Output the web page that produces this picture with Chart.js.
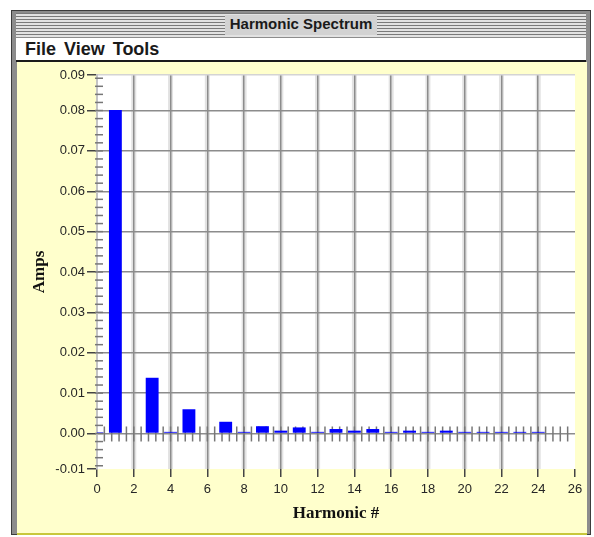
<!DOCTYPE html>
<html>
<head>
<meta charset="utf-8">
<title>Harmonic Spectrum</title>
<script src="https://cdn.jsdelivr.net/npm/chart.js@4/dist/chart.umd.min.js"></script>
<style>
  body { margin: 0; background: #fff; }
  .frame {
    position: absolute; left: 11px; top: 10px; width: 580px; height: 525px;
    box-sizing: border-box; background: #8c8c8c; border: 1px solid #3c3c3c;
  }
  .titlebar {
    position: absolute; left: 4px; right: 4px; top: 2px; height: 24px;
    background: repeating-linear-gradient(to bottom, #7a7a7a 0px, #7a7a7a 1px, #e2e2e2 1px, #e2e2e2 3px);
    text-align: center;
  }
  .titlebar span {
    display: inline-block; margin-top: 2px; height: 20px; line-height: 20px; padding: 0 5px;
    background: #d2d2d2; color: #1a1a1a;
    font: bold 15px "Liberation Sans", Arial, sans-serif;
  }
  .menubar {
    position: absolute; left: 4px; right: 4px; top: 27px; height: 22px;
    background: #fff; border-bottom: 2px solid #1a1a1a;
  }
  .menubar div {
    position: absolute; left: 9px; top: 0; white-space: nowrap;
    font: bold 18px "Liberation Sans", Arial, sans-serif; color: #1a1a1a; line-height: 23px;
  }
  .menubar span { margin-right: 8px; }
  .plot {
    position: absolute; left: 5px; top: 51px; width: 570px; height: 471px;
    background: #ffffcc; border-bottom: 2px solid #c8c83c;
  }
</style>
</head>
<body>
<div class="frame">
  <div class="titlebar"><span>Harmonic Spectrum</span></div>
  <div class="menubar"><div><span>File</span><span>View</span><span>Tools</span></div></div>
  <div class="plot"><canvas id="spectrum" width="570" height="471"></canvas></div>
</div>
<script>
// harmonic number and amplitude
var harmonics = [0, 1, 2, 3, 4, 5, 6, 7, 8, 9, 10, 11, 12, 13, 14, 15, 16, 17, 18, 19, 20, 21, 22, 23, 24, 25]
var amps = [0.0003, 0.0801, 0, 0.0138, 0.0004, 0.0060, 0, 0.0029, 0.0004, 0.0018, 0.0007, 0.0015, 0.0004,
  0.0011, 0.0007, 0.0011, 0.0004, 0.0007, 0.0004, 0.0007, 0.0004, 0.0004, 0.0004, 0.0004, 0.0004, 0]

// axis ends (labelled with their rounded values) and the inner y ticks
var yMin = -0.0088
var yMax = 0.0888
var yTickValues = [0, 0.01, 0.02, 0.03, 0.04, 0.05, 0.06, 0.07, 0.08]
var yMinorStep = 0.002
var xMin = 0
var xMax = 26
var xStep = 2
var xMinorStep = 0.4

var points = harmonics.map(function (h, i) {
  return { x: h, y: amps[i] }
})

var plotBackground = {
  id: 'plotBackground',
  beforeDraw: function (chart) {
    var ctx = chart.ctx
    var a = chart.chartArea
    var x = chart.scales.x
    ctx.save()
    ctx.fillStyle = '#ffffff'
    ctx.fillRect(a.left, a.top, a.right - a.left, a.bottom - a.top)
    // soft grey band round each vertical grid line
    ctx.strokeStyle = '#e2e2e2'
    ctx.lineWidth = 5
    x.ticks.forEach(function (t) {
      if (t.value <= x.min || t.value >= x.max) return
      var px = x.getPixelForValue(t.value)
      ctx.beginPath()
      ctx.moveTo(px, a.top)
      ctx.lineTo(px, a.bottom)
      ctx.stroke()
    })
    ctx.restore()
  }
}

var minorTicks = {
  id: 'minorTicks',
  beforeDatasetsDraw: function (chart) {
    var ctx = chart.ctx
    var x = chart.scales.x
    var y = chart.scales.y
    var left = chart.chartArea.left
    var y0 = y.getPixelForValue(0)
    ctx.save()
    ctx.strokeStyle = '#777'
    ctx.lineWidth = 1.5
    // x minor ticks along the zero line
    var n = Math.round((xMax - xMin) / xMinorStep)
    for (var i = 1; i < n; i++) {
      var px = x.getPixelForValue(xMin + i * xMinorStep)
      ctx.beginPath()
      ctx.moveTo(px, y0 - 7)
      ctx.lineTo(px, y0 + 8)
      ctx.stroke()
    }
    // y minor ticks on the left axis
    for (var j = Math.ceil(yMin / yMinorStep); j * yMinorStep <= yMax; j++) {
      var py = y.getPixelForValue(j * yMinorStep)
      ctx.beginPath()
      ctx.moveTo(left - 2, py)
      ctx.lineTo(left + 6, py)
      ctx.stroke()
    }
    ctx.restore()
  }
}

Chart.defaults.font.family = '"Liberation Sans", Arial, sans-serif'
Chart.defaults.font.size = 13
Chart.defaults.color = '#262626'

var chart = new Chart(document.getElementById('spectrum').getContext('2d'), {
  type: 'bar',
  data: {
    datasets: [{
      label: 'Amps',
      data: points,
      backgroundColor: '#0000ff',
      borderWidth: 0,
      barPercentage: 0.7,
      categoryPercentage: 1.0,
    }],
  },
  options: {
    responsive: false,
    animation: false,
    events: [],
    layout: { padding: { left: 0, top: 13, right: 12, bottom: 0 } },
    plugins: { legend: { display: false }, tooltip: { enabled: false } },
    scales: {
      x: {
        type: 'linear',
        min: xMin,
        max: xMax,
        offset: false,
        border: { display: false },
        grid: {
          offset: false,
          color: function (c) {
            return (c.tick && (c.tick.value === xMin || c.tick.value === xMax)) ? 'rgba(0,0,0,0)' : '#8c8c8c'
          },
          lineWidth: 1.5,
          tickLength: 8,
          tickColor: '#444',
          tickWidth: 1.5,
        },
        ticks: { stepSize: xStep, padding: 5, maxRotation: 0 },
        title: {
          display: true,
          text: 'Harmonic #',
          color: '#111',
          font: { family: '"Liberation Serif", "Times New Roman", serif', size: 17, weight: 'bold' },
          padding: { top: 0, bottom: 9 },
        },
        afterFit: function (scale) {
          scale.height = 64
          scale.paddingLeft = 0
          scale.paddingRight = 0
        },
      },
      y: {
        min: yMin,
        max: yMax,
        border: { color: '#c4c4c4', width: 2 },
        grid: {
          color: function (c) {
            if (!c.tick) return '#8c8c8c'
            if (c.tick.value === yMin) return 'rgba(0,0,0,0)'
            if (c.tick.value === yMax) return '#d4d4d4'
            return '#8c8c8c'
          },
          lineWidth: 1.5,
          tickLength: 10,
          tickColor: '#444',
          tickWidth: 1.5,
        },
        afterBuildTicks: function (scale) {
          scale.ticks = [yMin].concat(yTickValues, [yMax]).map(function (v) {
            return { value: v }
          })
        },
        ticks: {
          padding: 2,
          callback: function (v) {
            return Number(v).toFixed(2)
          },
        },
        title: {
          display: true,
          text: 'Amps',
          color: '#111',
          font: { family: '"Liberation Serif", "Times New Roman", serif', size: 17, weight: 'bold' },
          padding: { top: 12, bottom: 0 },
        },
        afterFit: function (scale) {
          scale.width = 80
          scale.paddingTop = 0
          scale.paddingBottom = 0
        },
      },
    },
  },
  plugins: [plotBackground, minorTicks],
})
</script>
</body>
</html>
